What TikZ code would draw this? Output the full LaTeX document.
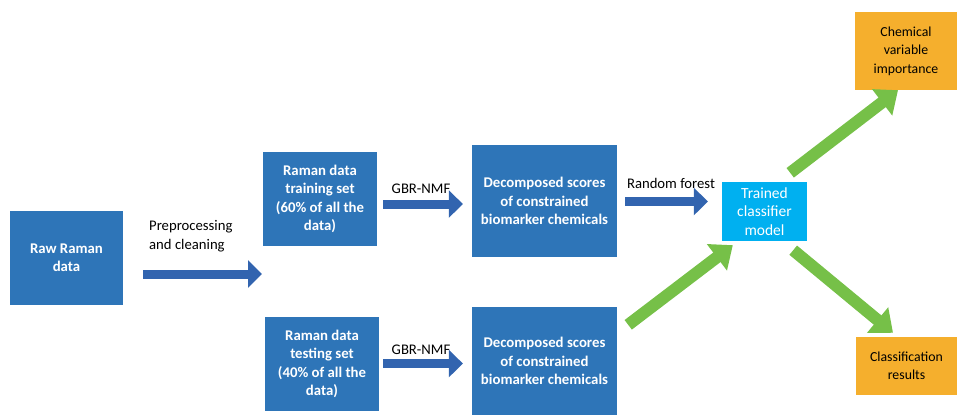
\documentclass[tikz,border=0pt]{standalone}
\usepackage{fontspec}
\setmainfont{Carlito}
\usetikzlibrary{arrows.meta,calc}
\definecolor{boxblue}{RGB}{46,117,184}
\definecolor{arrblue}{RGB}{50,100,175}
\definecolor{agreen}{RGB}{118,192,72}
\definecolor{tcyan}{RGB}{0,176,240}
\definecolor{gold}{RGB}{245,175,45}
\tikzset{
  bluebox/.style={fill=boxblue, draw=none, text=white, font=\bfseries\fontsize{14.8}{18.3}\selectfont, align=center, inner sep=0pt},
  cyanbox/.style={fill=tcyan, draw=none, text=white, font=\fontsize{15.5}{18.5}\selectfont, align=center, inner sep=0pt},
  goldbox/.style={fill=gold, draw=none, text=black, font=\fontsize{13.8}{18.5}\selectfont, align=center, inner sep=0pt},
  lbl/.style={text=black, font=\fontsize{14.7}{19}\selectfont, align=left, inner sep=0pt},
  barrow/.style={draw=arrblue, line width=9pt, -{Triangle[width=27pt,length=14pt]}},
  garrow/.style={draw=agreen, line width=12pt, -{Triangle[width=32pt,length=20pt]}}
}
\begin{document}
\begin{tikzpicture}[x=1pt,y=-1pt]
\useasboundingbox (0,0) rectangle (957,415);
% boxes
\node[bluebox, minimum width=113pt, minimum height=94pt] (raw) at (66.5,258) {Raw Raman\\data};
\node[bluebox, minimum width=114pt, minimum height=94pt] (train) at (320,199) {Raman data\\training set\\(60\% of all the\\data)};
\node[bluebox, minimum width=114pt, minimum height=94pt] (test) at (322,364) {Raman data\\testing set\\(40\% of all the\\data)};
\node[bluebox, minimum width=145pt, minimum height=112pt] (dec1) at (544.5,201) {Decomposed scores\\of constrained\\biomarker chemicals};
\node[bluebox, minimum width=145pt, minimum height=108pt] (dec2) at (544.5,361) {Decomposed scores\\of constrained\\biomarker chemicals};
\node[cyanbox, minimum width=85pt, minimum height=59pt] (trained) at (764.5,211.5) {Trained\\classifier\\model};
\node[goldbox, minimum width=102pt, minimum height=78pt] (chem) at (906,51) {Chemical\\variable\\importance};
\node[goldbox, minimum width=101pt, minimum height=58pt] (cls) at (906.5,366) {Classification\\results};
% labels
\node[lbl, anchor=west] (lpre) at (149,236) {Preprocessing\\and cleaning};
\node[lbl] (lg1) at (421,189) {GBR-NMF};
\node[lbl] (lg2) at (421,350) {GBR-NMF};
\node[lbl] (lrf) at (671,183) {Random forest};
% blue arrows
\coordinate (preend) at (262,274);
\draw[barrow] ([shift={(20,16)}]raw.east) -- (preend);
\draw[barrow] ([shift={(6,5)}]train.east) -- ([shift={(-9,3)}]dec1.west);
\draw[barrow] ([shift={(4,-0.5)}]test.east) -- ([shift={(-9,2.5)}]dec2.west);
\draw[barrow] ([shift={(8,0.5)}]dec1.east) -- ([shift={(-14,-10)}]trained.west);
% green arrows
\draw[garrow] ([shift={(11,18)}]dec2.north east) -- ([shift={(11,4)}]trained.south west);
\draw[garrow] ([shift={(-17,-9)}]trained.north east) -- ([shift={(-8,0)}]chem.south);
\draw[garrow] ([shift={(-14,9)}]trained.south east) -- ([shift={(-13.5,-4)}]cls.north);
\end{tikzpicture}
\end{document}
